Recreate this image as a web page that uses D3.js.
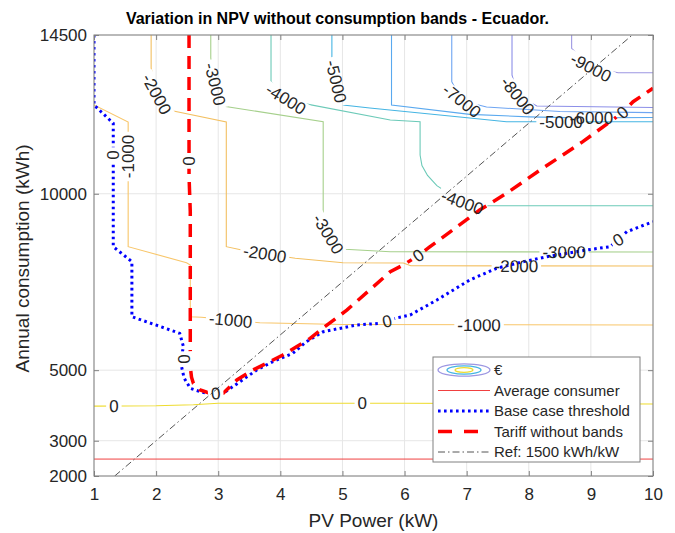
<!DOCTYPE html>
<html>

<head>
  <meta charset='utf-8'>
  <title>Variation in NPV without consumption bands - Ecuador</title>
  <style>
    body {
      margin: 0;
      background: #fff;
    }

    svg text {
      font-family: "Liberation Sans", Arial, Helvetica, sans-serif;
    }
  </style>
</head>

<body>
  <div id="chart"></div>
</body>
<script src="https://d3js.org/d3.v7.min.js"></script>
<script>
  // ---- data ----
  const xTicks = [1, 2, 3, 4, 5, 6, 7, 8, 9, 10];
  const yTicks = [2000, 3000, 5000, 10000, 14500];

  // NPV contour levels (EUR); each line is [PV power kW, annual consumption kWh]
  const levels = [0, -1000, -2000, -3000, -4000, -5000, -6000, -7000, -8000, -9000];
  const npv_0 = [[1, 3980], [2.0, 3990], [2.6, 4020], [3.0, 4060], [6.0, 4060], [10, 4040]];
  const npv_m1000 = [[1, 12516], [1.55, 12034], [1.55, 8500], [2.49, 8046], [2.55, 7980], [2.55, 6515], [2.73, 6500],
    [3.20, 6420], [3.67, 6345], [5.0, 6295], [10, 6280]];
  const npv_m2000 = [[1.92, 14500], [1.92, 13565], [2.01, 12828], [2.28, 12346], [3.13, 12034], [3.13, 8500], [3.38, 8406],
    [3.75, 8300], [4.24, 8171], [5.01, 8046], [5.98, 8037], [6.1, 7960], [10, 7952]];
  const npv_m3000 = [[2.88, 14500], [2.88, 13848], [2.95, 13111], [3.07, 12488], [4.69, 12043], [4.69, 9398], [4.77, 8860],
    [5.04, 8426], [5.77, 8358], [10, 8349]];
  const npv_m4000 = [[3.85, 14500], [3.85, 13177], [4.09, 12686], [4.41, 12547], [5.77, 12091], [6.25, 12043], [6.25, 11099],
    [6.28, 10800], [6.37, 10520], [6.52, 10230], [6.93, 9760], [7.34, 9662], [10, 9662]];
  const npv_m5000 = [[4.83, 14500], [4.83, 13848], [4.90, 13182], [5.01, 12516], [5.44, 12431], [7.05, 12147], [7.64, 12043],
    [10, 12043]];
  const npv_m6000 = [[5.79, 14500], [5.79, 12516], [7.05, 12250], [8.0, 12180], [8.8, 12150], [10, 12160]];
  const npv_m7000 = [[6.76, 14500], [6.76, 13177], [6.92, 12636], [7.32, 12460], [8.5, 12330], [10, 12300]];
  const npv_m8000 = [[7.73, 14500], [7.73, 13366], [7.82, 12777], [8.13, 12488], [10, 12445]];
  const npv_m9000 = [[8.69, 14500], [8.69, 14123], [9.0, 13579], [9.44, 13432], [10, 13432]];

  // where the inline labels sit on each contour
  const lab_0 = [[1.32, 3985], [5.32, 4060]];
  const lab_m1000 = [[1.55, 11056], [3.20, 6420], [7.20, 6280]];
  const lab_m2000 = [[2.01, 12828], [3.75, 8300], [7.80, 7952]];
  const lab_m3000 = [[2.95, 13111], [4.77, 8860], [8.57, 8349]];
  const lab_m4000 = [[4.09, 12686], [6.93, 9760]];
  const lab_m5000 = [[4.90, 13182], [8.52, 12043]];
  const lab_m6000 = [[9.01, 12150]];
  const lab_m7000 = [[6.92, 12636]];
  const lab_m8000 = [[7.82, 12777]];
  const lab_m9000 = [[9.0, 13579]];

  // base case break-even line (NPV = 0)
  const baseCase = [[1, 14500], [1, 12516], [1.31, 11997], [1.31, 8500], [1.61, 8074], [1.61, 6515], [2.38, 6045],
    [2.44, 5665], [2.41, 5400], [2.41, 5098], [2.45, 4780], [2.55, 4486], [2.71, 4390], [2.92, 4296], [3.08, 4344],
    [3.35, 4673], [3.62, 5005], [3.88, 5240], [4.20, 5478], [4.42, 5807], [4.69, 6090], [5.23, 6280], [5.60, 6328],
    [5.85, 6470], [6.09, 6564], [6.52, 6989], [7.05, 7556], [7.48, 7887], [7.91, 8074], [8.29, 8216], [8.93, 8406],
    [9.31, 8500], [9.58, 8925], [10, 9208]];
  const lab_base = [[1.31, 11099], [5.72, 6390], [9.44, 8700]];

  // tariff without bands break-even line (NPV = 0)
  const tariff = [[2.53, 14500], [2.53, 10500], [2.55, 9500], [2.55, 5500], [2.55, 5100], [2.57, 4800], [2.60, 4628],
    [2.71, 4438], [2.84, 4361], [2.96, 4340], [3.08, 4344], [3.30, 4721], [3.56, 5005], [3.83, 5240], [4.04, 5430],
    [4.26, 5665], [4.48, 5900], [4.69, 6200], [5.07, 6700], [5.77, 7791], [5.98, 7981], [6.22, 8250], [6.41, 8500],
    [7.21, 9540], [7.64, 10013], [8.23, 10730], [8.87, 11476], [9.31, 12043], [9.51, 12303], [9.68, 12610], [10, 12989]];
  const lab_tariff = [[2.53, 10929], [6.22, 8250], [9.51, 12303]];
  // labels where both zero lines run together
  const lab_shared = [[2.45, 5316], [2.96, 4340]];

  const avgConsumption = 2480;
  const refLine = [[1.333, 2000], [9.667, 14500]];

  const legendNames = ["€", "Average consumer", "Base case threshold", "Tariff without bands", "Ref: 1500 kWh/kW"];

  // ---- styles ----
  const LEVEL_COLORS = ["#eedc30", "#f8c66a", "#f3c062", "#a6d08c", "#6ccab8", "#45b5e3", "#5aa9ef", "#6ea5f2",
    "#8c8fe8", "#9d97e2"];
  const BLUE = "#0000ff", RED = "#ff0000", AVG_COLOR = "#f04040", REF_COLOR = "#555555";
  const AXIS_COLOR = "#808080", GRID_COLOR = "#e6e6e6", TEXT_COLOR = "#262626";
  const TICK_FONT = 17, LABEL_FONT = 17, LEGEND_FONT = 15;

  var W = 675, H = 533;
  var margin = { top: 35, right: 22, bottom: 57, left: 94 },
    width = W - margin.left - margin.right,
    height = H - margin.top - margin.bottom;

  var root = d3.select("#chart").append("svg")
    .attr("width", W).attr("height", H);
  var defs = root.append("defs");
  defs.append("clipPath").attr("id", "plotClip")
    .append("rect").attr("width", width).attr("height", height);

  var svg = root.append("g")
    .attr("transform", "translate(" + margin.left + "," + margin.top + ")");

  var x = d3.scaleLinear().domain([1, 10]).range([0, width]);
  var y = d3.scaleLinear().domain([2000, 14500]).range([height, 0]);

  // grid
  svg.append("g").selectAll("line").data(xTicks).enter().append("line")
    .attr("x1", function (d) { return x(d); }).attr("x2", function (d) { return x(d); })
    .attr("y1", 0).attr("y2", height)
    .attr("stroke", GRID_COLOR);
  svg.append("g").selectAll("line").data(yTicks).enter().append("line")
    .attr("y1", function (d) { return y(d); }).attr("y2", function (d) { return y(d); })
    .attr("x1", 0).attr("x2", width)
    .attr("stroke", GRID_COLOR);

  var line = d3.line()
    .x(function (d) { return x(d[0]); })
    .y(function (d) { return y(d[1]); });

  // place a label on a polyline: angle follows the chord across the label
  function placeLabel(pts, lab) {
    var p = pts.map(function (d) { return [x(d[0]), y(d[1])]; });
    var lx = x(lab[0]), ly = y(lab[1]);
    var cum = [0];
    for (var i = 1; i < p.length; i++) {
      cum.push(cum[i - 1] + Math.hypot(p[i][0] - p[i - 1][0], p[i][1] - p[i - 1][1]));
    }
    var best = Infinity, s = 0;
    for (var i = 1; i < p.length; i++) {
      var dx = p[i][0] - p[i - 1][0], dy = p[i][1] - p[i - 1][1];
      var L2 = dx * dx + dy * dy;
      var t = L2 ? ((lx - p[i - 1][0]) * dx + (ly - p[i - 1][1]) * dy) / L2 : 0;
      t = Math.max(0, Math.min(1, t));
      var qx = p[i - 1][0] + t * dx, qy = p[i - 1][1] + t * dy;
      var dist = Math.hypot(qx - lx, qy - ly);
      if (dist < best) { best = dist; s = cum[i - 1] + t * Math.sqrt(L2); }
    }
    function at(s0) {
      s0 = Math.max(0, Math.min(cum[cum.length - 1], s0));
      for (var i = 1; i < p.length; i++) {
        if (s0 <= cum[i]) {
          var seg = cum[i] - cum[i - 1], t = seg ? (s0 - cum[i - 1]) / seg : 0;
          return [p[i - 1][0] + t * (p[i][0] - p[i - 1][0]), p[i - 1][1] + t * (p[i][1] - p[i - 1][1])];
        }
      }
      return p[p.length - 1];
    }
    var a0 = at(s - 18), a1 = at(s + 18);
    var ang = Math.atan2(a1[1] - a0[1], a1[0] - a0[0]) * 180 / Math.PI;
    if (ang >= 90) ang -= 180;
    if (ang < -90) ang += 180;
    return { px: lx, py: ly, a: ang };
  }

  var linesG = svg.append("g").attr("clip-path", "url(#plotClip)");
  var labelsG = svg.append("g");

  function drawLabel(pl, txt, pad) {
    var t = labelsG.append("text")
      .attr("transform", "translate(" + pl.px + "," + pl.py + ") rotate(" + pl.a + ")")
      .attr("text-anchor", "middle").attr("dy", "0.35em")
      .attr("font-size", LABEL_FONT).attr("fill", TEXT_COLOR)
      .text(txt);
    pl.w = t.node().getComputedTextLength() + 6;
    pl.h = LABEL_FONT * 0.85 + (pad || 0);
    return pl;
  }

  function addMask(id, labs) {
    var m = defs.append("mask").attr("id", id).attr("maskUnits", "userSpaceOnUse")
      .attr("x", -margin.left).attr("y", -margin.top).attr("width", W).attr("height", H);
    m.append("rect").attr("x", -margin.left).attr("y", -margin.top)
      .attr("width", W).attr("height", H).attr("fill", "white");
    labs.forEach(function (l) {
      m.append("rect").attr("x", -l.w / 2).attr("y", -l.h / 2)
        .attr("width", l.w).attr("height", l.h).attr("fill", "black")
        .attr("transform", "translate(" + l.px + "," + l.py + ") rotate(" + l.a + ")");
    });
  }

  // contour map
  var contourLines = [npv_0, npv_m1000, npv_m2000, npv_m3000, npv_m4000, npv_m5000, npv_m6000, npv_m7000, npv_m8000, npv_m9000];
  var contourLabels = [lab_0, lab_m1000, lab_m2000, lab_m3000, lab_m4000, lab_m5000, lab_m6000, lab_m7000, lab_m8000, lab_m9000];
  contourLines.forEach(function (pts, i) {
    var placed = contourLabels[i].map(function (l) { return drawLabel(placeLabel(pts, l), String(levels[i])); });
    addMask("mask" + i, placed);
    linesG.append("path").datum(pts)
      .attr("d", line).attr("fill", "none")
      .attr("stroke", LEVEL_COLORS[i]).attr("stroke-width", 1.1)
      .attr("mask", "url(#mask" + i + ")");
  });

  // average consumer
  linesG.append("line")
    .attr("x1", x(1)).attr("x2", x(10))
    .attr("y1", y(avgConsumption)).attr("y2", y(avgConsumption))
    .attr("stroke", AVG_COLOR).attr("stroke-width", 1);

  // zero lines
  var sharedPlaced = lab_shared.map(function (l) { return drawLabel(placeLabel(tariff, l), "0", 6); });
  var basePlaced = lab_base.map(function (l) { return drawLabel(placeLabel(baseCase, l), "0"); });
  var tariffPlaced = lab_tariff.map(function (l) { return drawLabel(placeLabel(tariff, l), "0"); });
  addMask("maskBase", basePlaced.concat(sharedPlaced));
  addMask("maskTariff", tariffPlaced.concat(sharedPlaced));

  linesG.append("path").datum(baseCase)
    .attr("d", line).attr("fill", "none")
    .attr("stroke", BLUE).attr("stroke-width", 3)
    .attr("stroke-dasharray", "2.6,3.4")
    .attr("mask", "url(#maskBase)");
  linesG.append("path").datum(tariff)
    .attr("d", line).attr("fill", "none")
    .attr("stroke", RED).attr("stroke-width", 3.5)
    .attr("stroke-dasharray", "13,8")
    .attr("mask", "url(#maskTariff)");

  // reference 1500 kWh/kW
  linesG.append("path").datum(refLine)
    .attr("d", line).attr("fill", "none")
    .attr("stroke", REF_COLOR).attr("stroke-width", 1)
    .attr("stroke-dasharray", "7,3,1.5,3");

  // axes box and inward ticks on all sides
  var xAxis = svg.append("g").attr("transform", "translate(0," + height + ")")
    .call(d3.axisBottom(x).tickValues(xTicks).tickSizeInner(-5).tickSizeOuter(0).tickPadding(12));
  var yAxis = svg.append("g")
    .call(d3.axisLeft(y).tickValues(yTicks).tickFormat(d3.format("d"))
      .tickSizeInner(-5).tickSizeOuter(0).tickPadding(7));
  svg.append("g")
    .call(d3.axisTop(x).tickValues(xTicks).tickSizeInner(-5).tickSizeOuter(0).tickFormat(""));
  svg.append("g").attr("transform", "translate(" + width + ",0)")
    .call(d3.axisRight(y).tickValues(yTicks).tickSizeInner(-5).tickSizeOuter(0).tickFormat(""));
  svg.selectAll(".domain").remove();
  svg.selectAll(".tick line").attr("stroke", AXIS_COLOR);
  svg.selectAll(".tick text")
    .attr("font-size", TICK_FONT).attr("fill", TEXT_COLOR)
    .style("font-family", "'Liberation Sans', Arial, sans-serif");
  svg.append("rect")
    .attr("width", width).attr("height", height)
    .attr("fill", "none").attr("stroke", AXIS_COLOR).attr("stroke-width", 1);

  // axis titles
  svg.append("text")
    .attr("x", width / 2).attr("y", height + 51)
    .attr("text-anchor", "middle").attr("font-size", 19).attr("fill", TEXT_COLOR)
    .text("PV Power (kW)");
  svg.append("text")
    .attr("transform", "translate(" + (29 - margin.left) + "," + (height / 2 + 3) + ") rotate(-90)")
    .attr("text-anchor", "middle").attr("font-size", 19).attr("fill", TEXT_COLOR)
    .text("Annual consumption (kWh)");
  root.append("text")
    .attr("x", 337.5).attr("y", 24)
    .attr("text-anchor", "middle").attr("font-size", 16).attr("font-weight", "bold").attr("fill", "#000")
    .text("Variation in NPV without consumption bands - Ecuador.");

  // legend
  var lg = root.append("g").attr("transform", "translate(433,357)");
  lg.append("rect").attr("width", 207).attr("height", 105)
    .attr("fill", "#fff").attr("stroke", AXIS_COLOR);
  var ROW = 20.5, ROW0 = 13, X0 = 5, X1 = 57;
  var rows = lg.selectAll("g.row").data(legendNames).enter().append("g")
    .attr("transform", function (d, i) { return "translate(0," + (ROW0 + i * ROW) + ")"; });
  rows.append("text").attr("x", 61).attr("dy", "0.35em")
    .attr("font-size", LEGEND_FONT).attr("fill", TEXT_COLOR)
    .text(function (d) { return d; });
  // contour symbol
  var sym = d3.select(rows.nodes()[0]);
  [[26, 6.2, LEVEL_COLORS[9]], [17, 4.2, LEVEL_COLORS[5]], [9, 2.4, LEVEL_COLORS[0]]].forEach(function (e) {
    sym.append("ellipse").attr("cx", 31).attr("cy", 0).attr("rx", e[0]).attr("ry", e[1])
      .attr("fill", "none").attr("stroke", e[2]).attr("stroke-width", 1.3);
  });
  d3.select(rows.nodes()[1]).append("line").attr("x1", X0).attr("x2", X1)
    .attr("stroke", AVG_COLOR).attr("stroke-width", 1);
  d3.select(rows.nodes()[2]).append("line").attr("x1", X0).attr("x2", X1)
    .attr("stroke", BLUE).attr("stroke-width", 3).attr("stroke-dasharray", "2.6,3.4");
  d3.select(rows.nodes()[3]).append("line").attr("x1", X0).attr("x2", X1)
    .attr("stroke", RED).attr("stroke-width", 3.5).attr("stroke-dasharray", "14,12");
  d3.select(rows.nodes()[4]).append("line").attr("x1", X0).attr("x2", X1)
    .attr("stroke", REF_COLOR).attr("stroke-width", 1).attr("stroke-dasharray", "7,3,1.5,3");
</script>

</html>
